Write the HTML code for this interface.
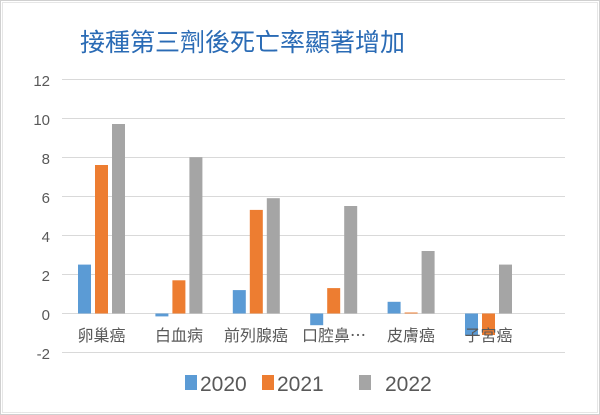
<!DOCTYPE html>
<html><head><meta charset="utf-8"><style>
html,body{margin:0;padding:0;background:#fff;}
svg{display:block;font-family:"Liberation Sans","Noto Sans CJK TC",sans-serif;}
</style></head><body>
<svg width="600" height="415" viewBox="0 0 600 415">
<rect x="0.5" y="0.5" width="599" height="414" fill="#fff" stroke="#d0d0d0"/>
<rect x="2.5" y="2.5" width="595" height="410" fill="none" stroke="#e6e6e6"/>
<text x="80" y="51" font-size="25" fill="#2a6bb5" font-family="'Noto Sans CJK TC',sans-serif">接種第三劑後死亡率顯著增加</text>
<g stroke="#d9d9d9" stroke-width="1">
<line x1="62" x2="565" y1="79.5" y2="79.5"/>
<line x1="62" x2="565" y1="118.5" y2="118.5"/>
<line x1="62" x2="565" y1="157.5" y2="157.5"/>
<line x1="62" x2="565" y1="196.5" y2="196.5"/>
<line x1="62" x2="565" y1="235.5" y2="235.5"/>
<line x1="62" x2="565" y1="274.5" y2="274.5"/>
<line x1="62" x2="565" y1="352.5" y2="352.5"/>
</g>
<g font-size="15" fill="#595959" text-anchor="end">
<text x="50" y="86">12</text><text x="50" y="125">10</text><text x="50" y="164">8</text>
<text x="50" y="203">6</text><text x="50" y="242">4</text><text x="50" y="281">2</text>
<text x="50" y="320">0</text><text x="50" y="359">-2</text>
</g>
<line x1="62" x2="565" y1="313.5" y2="313.5" stroke="#d9d9d9"/>
<g>
<rect x="78" y="264.6" width="13" height="48.9" fill="#5b9bd5"/>
<rect x="95" y="165" width="13" height="148.5" fill="#ed7d31"/>
<rect x="112" y="124" width="13" height="189.5" fill="#a5a5a5"/>
<rect x="155.4" y="313.5" width="13" height="2.9" fill="#5b9bd5"/>
<rect x="172.4" y="280.3" width="13" height="33.2" fill="#ed7d31"/>
<rect x="189.4" y="157.2" width="13" height="156.3" fill="#a5a5a5"/>
<rect x="232.8" y="290.1" width="13" height="23.4" fill="#5b9bd5"/>
<rect x="249.8" y="209.9" width="13" height="103.6" fill="#ed7d31"/>
<rect x="266.8" y="198.2" width="13" height="115.3" fill="#a5a5a5"/>
<rect x="310.2" y="313.5" width="13" height="11.7" fill="#5b9bd5"/>
<rect x="327.2" y="288.1" width="13" height="25.4" fill="#ed7d31"/>
<rect x="344.2" y="206" width="13" height="107.5" fill="#a5a5a5"/>
<rect x="387.6" y="301.8" width="13" height="11.7" fill="#5b9bd5"/>
<rect x="404.6" y="312.5" width="13" height="1" fill="#ed7d31"/>
<rect x="421.6" y="251" width="13" height="62.5" fill="#a5a5a5"/>
<rect x="465" y="313.5" width="13" height="21.5" fill="#5b9bd5"/>
<rect x="482" y="313.5" width="13" height="21.5" fill="#ed7d31"/>
<rect x="499" y="264.6" width="13" height="48.9" fill="#a5a5a5"/>
</g>
<g font-size="16" fill="#595959" text-anchor="middle" font-family="'Noto Sans CJK TC',sans-serif">
<text x="101.5" y="341">卵巢癌</text><text x="179" y="341">白血病</text>
<text x="256" y="341">前列腺癌</text><text x="334" y="341">口腔鼻…</text>
<text x="411" y="341">皮膚癌</text><text x="488.5" y="341">子宮癌</text>
</g>
<g font-size="21" fill="#595959">
<rect x="185" y="375" width="12" height="15" fill="#5b9bd5"/><text x="200" y="391">2020</text>
<rect x="262" y="375" width="12" height="15" fill="#ed7d31"/><text x="277" y="391">2021</text>
<rect x="359" y="375" width="12" height="15" fill="#a5a5a5"/><text x="385" y="391">2022</text>
</g>
</svg>
</body></html>
